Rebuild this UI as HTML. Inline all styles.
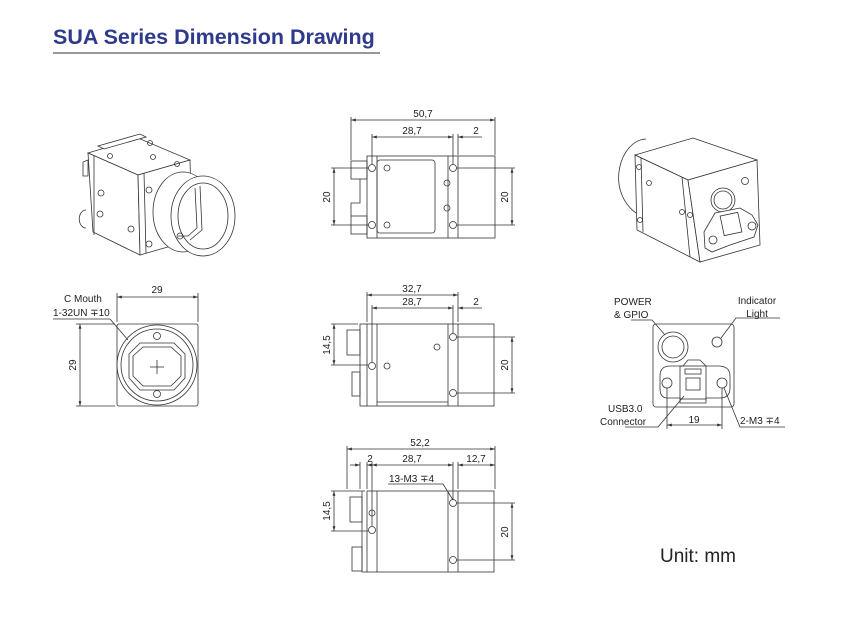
<!DOCTYPE html>
<html><head><meta charset="utf-8"><style>
html,body{margin:0;padding:0;background:#fff}
svg{display:block}
text{font-family:"Liberation Sans",sans-serif;fill:#222}
</style></head><body>
<svg width="857" height="634" viewBox="0 0 857 634" xmlns="http://www.w3.org/2000/svg">
<defs>
<marker id="a" viewBox="0 0 10 10" refX="10" refY="5" markerWidth="6" markerHeight="6" orient="auto-start-reverse"><path d="M0,2 L10,5 L0,8 z" fill="#333"/></marker>
</defs>
<text x="53" y="44" font-size="21.5" font-weight="bold" style="fill:#2e3a8c">SUA Series Dimension Drawing</text>
<line x1="53" y1="53" x2="380" y2="53" stroke="#777" stroke-width="1.5"/>

<g stroke="#333" fill="none" stroke-width="0.8">
<!-- left 3D view -->
<polygon points="88,153 138,138 190,160 138,175" fill="#fff"/>
<polygon points="88,153 138,175 140,255 93,232" fill="#fff"/>
<polygon points="138,175 190,160 192,240 140,255" fill="#fff"/>
<line x1="94" y1="156" x2="94" y2="235"/><line x1="144" y1="173" x2="146" y2="253"/>
<polygon points="98,146 140,134 146,137 104,149" fill="#fff"/>
<path d="M83,162 L88,160 L88,176 L83,176 Z"/>
<path d="M86,210 A6,8 0 0 0 86,228"/>
<ellipse cx="183" cy="212" rx="30" ry="40" fill="#fff"/>
<ellipse cx="203" cy="216" rx="32" ry="40" fill="#fff"/>
<ellipse cx="203" cy="216" rx="25" ry="33"/>
<polyline points="195,188 197,228 188,236 178,236"/>
<polyline points="200,186 202,230 190,240"/>
<circle cx="180" cy="236" r="3"/>
<circle cx="101" cy="193" r="3"/><circle cx="100" cy="214" r="3"/>
<circle cx="131" cy="229" r="3"/><circle cx="149" cy="190" r="3"/><circle cx="149" cy="244" r="3"/>
<circle cx="110" cy="156" r="2.5"/><circle cx="153" cy="157" r="2.5"/><circle cx="177" cy="164" r="2.5"/><circle cx="150" cy="143" r="2.5"/>

<!-- front view -->
<rect x="117" y="324" width="81" height="82" rx="2"/>
<circle cx="157" cy="365" r="40"/><circle cx="157" cy="365" r="36"/>
<polygon points="140,343 174,343 185,354 185,378 174,390 140,390 129,378 129,354"/>
<polygon points="143,347 171,347 181,356 181,376 171,386 143,386 133,376 133,356"/>
<line x1="150" y1="367" x2="164" y2="367"/><line x1="157" y1="360" x2="157" y2="374"/>
<circle cx="157" cy="336" r="3.5"/><circle cx="157" cy="394" r="3.5"/>
<line x1="117" y1="293" x2="117" y2="322"/><line x1="198" y1="293" x2="198" y2="322"/>
<line x1="117" y1="297" x2="198" y2="297" marker-start="url(#a)" marker-end="url(#a)"/>
<line x1="76" y1="324" x2="115" y2="324"/><line x1="76" y1="406" x2="115" y2="406"/>
<line x1="80" y1="324" x2="80" y2="406" marker-start="url(#a)" marker-end="url(#a)"/>
<polyline points="53,319 110,319 128,340"/>

<!-- top view 1 -->
<rect x="367" y="156" width="128" height="82"/>
<line x1="377" y1="156" x2="377" y2="238"/>
<rect x="377" y="160" width="58" height="73" rx="3"/>
<line x1="448" y1="156" x2="448" y2="238"/><line x1="458" y1="156" x2="458" y2="238"/>
<rect x="351" y="161" width="16" height="18"/><rect x="351" y="216" width="16" height="18"/>
<polyline points="360,179 360,203 351,203 351,216"/>
<circle cx="372" cy="168" r="3.5"/><circle cx="372" cy="225" r="3.5"/>
<circle cx="453" cy="168" r="3.5"/><circle cx="453" cy="225" r="3.5"/>
<circle cx="387" cy="168" r="3"/><circle cx="387" cy="225" r="3"/>
<circle cx="447" cy="183" r="3"/><circle cx="447" cy="208" r="3"/>
<line x1="351" y1="117" x2="351" y2="160"/><line x1="495" y1="117" x2="495" y2="155"/>
<line x1="351" y1="120" x2="495" y2="120" marker-start="url(#a)" marker-end="url(#a)"/>
<line x1="372" y1="134" x2="372" y2="164"/><line x1="453" y1="134" x2="453" y2="164"/><line x1="458" y1="134" x2="458" y2="155"/>
<line x1="372" y1="137" x2="453" y2="137" marker-start="url(#a)" marker-end="url(#a)"/>
<line x1="458" y1="137" x2="482" y2="137" marker-start="url(#a)"/>
<line x1="331" y1="168" x2="368" y2="168"/><line x1="331" y1="225" x2="368" y2="225"/>
<line x1="334" y1="168" x2="334" y2="225" marker-start="url(#a)" marker-end="url(#a)"/>
<line x1="457" y1="168" x2="515" y2="168"/><line x1="457" y1="225" x2="515" y2="225"/>
<line x1="512" y1="168" x2="512" y2="225" marker-start="url(#a)" marker-end="url(#a)"/>

<!-- middle view -->
<rect x="360" y="324" width="134" height="82"/>
<line x1="367" y1="324" x2="367" y2="406"/><line x1="377" y1="324" x2="377" y2="406"/>
<line x1="448" y1="324" x2="448" y2="406"/><line x1="458" y1="324" x2="458" y2="406"/>
<line x1="377" y1="402" x2="448" y2="402"/>
<rect x="347" y="330" width="13" height="25"/><rect x="352" y="372" width="8" height="24"/>
<circle cx="372" cy="366" r="3.5"/><circle cx="453" cy="337" r="3.5"/><circle cx="453" cy="393" r="3.5"/>
<circle cx="387" cy="366" r="3"/><circle cx="437" cy="347" r="3"/>
<line x1="367" y1="292" x2="367" y2="322"/><line x1="458" y1="292" x2="458" y2="322"/>
<line x1="367" y1="295" x2="458" y2="295" marker-start="url(#a)" marker-end="url(#a)"/>
<line x1="372" y1="305" x2="372" y2="362"/><line x1="453" y1="305" x2="453" y2="333"/>
<line x1="372" y1="308" x2="453" y2="308" marker-start="url(#a)" marker-end="url(#a)"/>
<line x1="458" y1="308" x2="482" y2="308" marker-start="url(#a)"/>
<line x1="331" y1="324" x2="358" y2="324"/><line x1="331" y1="365" x2="368" y2="365"/>
<line x1="334" y1="324" x2="334" y2="365" marker-start="url(#a)" marker-end="url(#a)"/>
<line x1="457" y1="337" x2="515" y2="337"/><line x1="457" y1="393" x2="515" y2="393"/>
<line x1="512" y1="337" x2="512" y2="393" marker-start="url(#a)" marker-end="url(#a)"/>

<!-- bottom view -->
<rect x="367" y="491" width="127" height="81"/>
<line x1="377" y1="491" x2="377" y2="572"/>
<line x1="448" y1="491" x2="448" y2="572"/><line x1="458" y1="491" x2="458" y2="572"/>
<polyline points="362,491 362,572 367,572"/>
<rect x="350" y="497" width="12" height="25"/><rect x="352" y="547" width="10" height="24"/>
<circle cx="372" cy="513" r="3"/><circle cx="372" cy="530" r="3.5"/>
<circle cx="453" cy="503" r="3.5"/><circle cx="453" cy="560" r="3.5"/>
<line x1="347" y1="446" x2="347" y2="489"/><line x1="495" y1="446" x2="495" y2="489"/>
<line x1="347" y1="449" x2="495" y2="449" marker-start="url(#a)" marker-end="url(#a)"/>
<line x1="360" y1="462" x2="360" y2="489"/><line x1="367" y1="462" x2="367" y2="489"/>
<line x1="372" y1="462" x2="372" y2="526"/><line x1="453" y1="462" x2="453" y2="499"/><line x1="458" y1="462" x2="458" y2="489"/>
<line x1="350" y1="465" x2="360" y2="465" marker-end="url(#a)"/>
<line x1="367" y1="465" x2="372" y2="465" marker-start="url(#a)"/>
<line x1="372" y1="465" x2="453" y2="465" marker-start="url(#a)" marker-end="url(#a)"/>
<line x1="458" y1="465" x2="495" y2="465" marker-start="url(#a)" marker-end="url(#a)"/>
<polyline points="388,484 443,484 453,500"/>
<line x1="331" y1="491" x2="365" y2="491"/><line x1="331" y1="531" x2="368" y2="531"/>
<line x1="334" y1="491" x2="334" y2="531" marker-start="url(#a)" marker-end="url(#a)"/>
<line x1="457" y1="503" x2="515" y2="503"/><line x1="457" y1="560" x2="515" y2="560"/>
<line x1="512" y1="503" x2="512" y2="560" marker-start="url(#a)" marker-end="url(#a)"/>

<!-- right 3D view -->
<path d="M646,139 C620,140 605,190 636,213"/>
<polygon points="635,155 693,138 757,160 688,180" fill="#fff"/>
<polygon points="635,155 688,180 700,262 637,230" fill="#fff"/>
<line x1="641" y1="158" x2="643" y2="232"/><line x1="682" y1="177" x2="690" y2="257"/>
<polygon points="688,180 757,160 760,245 700,262" fill="#fff"/>
<circle cx="723" cy="200" r="12"/><circle cx="723" cy="200" r="9"/>
<circle cx="745" cy="181" r="3.5"/>
<polygon points="704,232 715,213 740,208 752,215 758,225 754,237 730,245 712,252 705,248" fill="#fff"/>
<rect x="722" y="214" width="18" height="20" transform="rotate(-12 731 224)"/>
<circle cx="713" cy="240" r="4"/><circle cx="752" cy="226" r="4"/>
<circle cx="639" cy="167" r="2.5"/><circle cx="640" cy="220" r="2.5"/>
<circle cx="649" cy="183" r="2.5"/><circle cx="682" cy="212" r="2.5"/><circle cx="690" cy="215" r="2.5"/>

<!-- back view -->
<rect x="653" y="324" width="81" height="83" rx="3"/>
<circle cx="673" cy="347" r="15"/><circle cx="673" cy="347" r="11"/>
<circle cx="717" cy="342" r="5"/>
<path d="M660,376 Q660,366 670,366 L683,366 L688,360 L700,360 L706,366 L718,366 Q730,366 730,376 L730,388 Q730,398 720,398 L706,398 L706,403 L680,403 L680,398 L667,398 Q660,398 660,388 Z"/>
<rect x="680" y="366" width="26" height="33"/>
<rect x="685" y="369" width="16" height="5"/>
<rect x="686" y="378" width="14" height="12"/>
<circle cx="667" cy="383" r="5"/><circle cx="722" cy="383" r="5"/>
<polyline points="631,320 652,320 665,335"/>
<polyline points="780,318 736,318 721,338"/>
<polyline points="625,427 658,427 684,396"/>
<polyline points="785,427 740,427 724,388"/>
<line x1="667" y1="388" x2="667" y2="429"/><line x1="722" y1="388" x2="722" y2="429"/>
<line x1="667" y1="425" x2="722" y2="425" marker-start="url(#a)" marker-end="url(#a)"/>
</g>

<g font-size="10">
<text x="157" y="293" text-anchor="middle">29</text>
<text x="76" y="365" text-anchor="middle" transform="rotate(-90 76 365)">29</text>
<text x="64" y="302">C Mouth</text>
<text x="53" y="316">1-32UN ∓10</text>
<text x="423" y="117" text-anchor="middle">50,7</text>
<text x="412" y="134" text-anchor="middle">28,7</text>
<text x="476" y="134" text-anchor="middle">2</text>
<text x="330" y="197" text-anchor="middle" transform="rotate(-90 330 197)">20</text>
<text x="508" y="197" text-anchor="middle" transform="rotate(-90 508 197)">20</text>
<text x="412" y="292" text-anchor="middle">32,7</text>
<text x="412" y="305" text-anchor="middle">28,7</text>
<text x="476" y="305" text-anchor="middle">2</text>
<text x="330" y="345" text-anchor="middle" transform="rotate(-90 330 345)">14,5</text>
<text x="508" y="365" text-anchor="middle" transform="rotate(-90 508 365)">20</text>
<text x="420" y="446" text-anchor="middle">52,2</text>
<text x="370" y="462" text-anchor="middle">2</text>
<text x="412" y="462" text-anchor="middle">28,7</text>
<text x="476" y="462" text-anchor="middle">12,7</text>
<text x="389" y="482">13-M3 ∓4</text>
<text x="330" y="511" text-anchor="middle" transform="rotate(-90 330 511)">14,5</text>
<text x="508" y="532" text-anchor="middle" transform="rotate(-90 508 532)">20</text>
<text x="614" y="305">POWER</text>
<text x="614" y="318">&amp; GPIO</text>
<text x="757" y="304" text-anchor="middle">Indicator</text>
<text x="757" y="317" text-anchor="middle">Light</text>
<text x="608" y="412">USB3.0</text>
<text x="600" y="425">Connector</text>
<text x="694" y="423" text-anchor="middle">19</text>
<text x="740" y="424">2-M3 ∓4</text>
</g>
<text x="660" y="562" font-size="19">Unit: mm</text>
</svg>
</body></html>
